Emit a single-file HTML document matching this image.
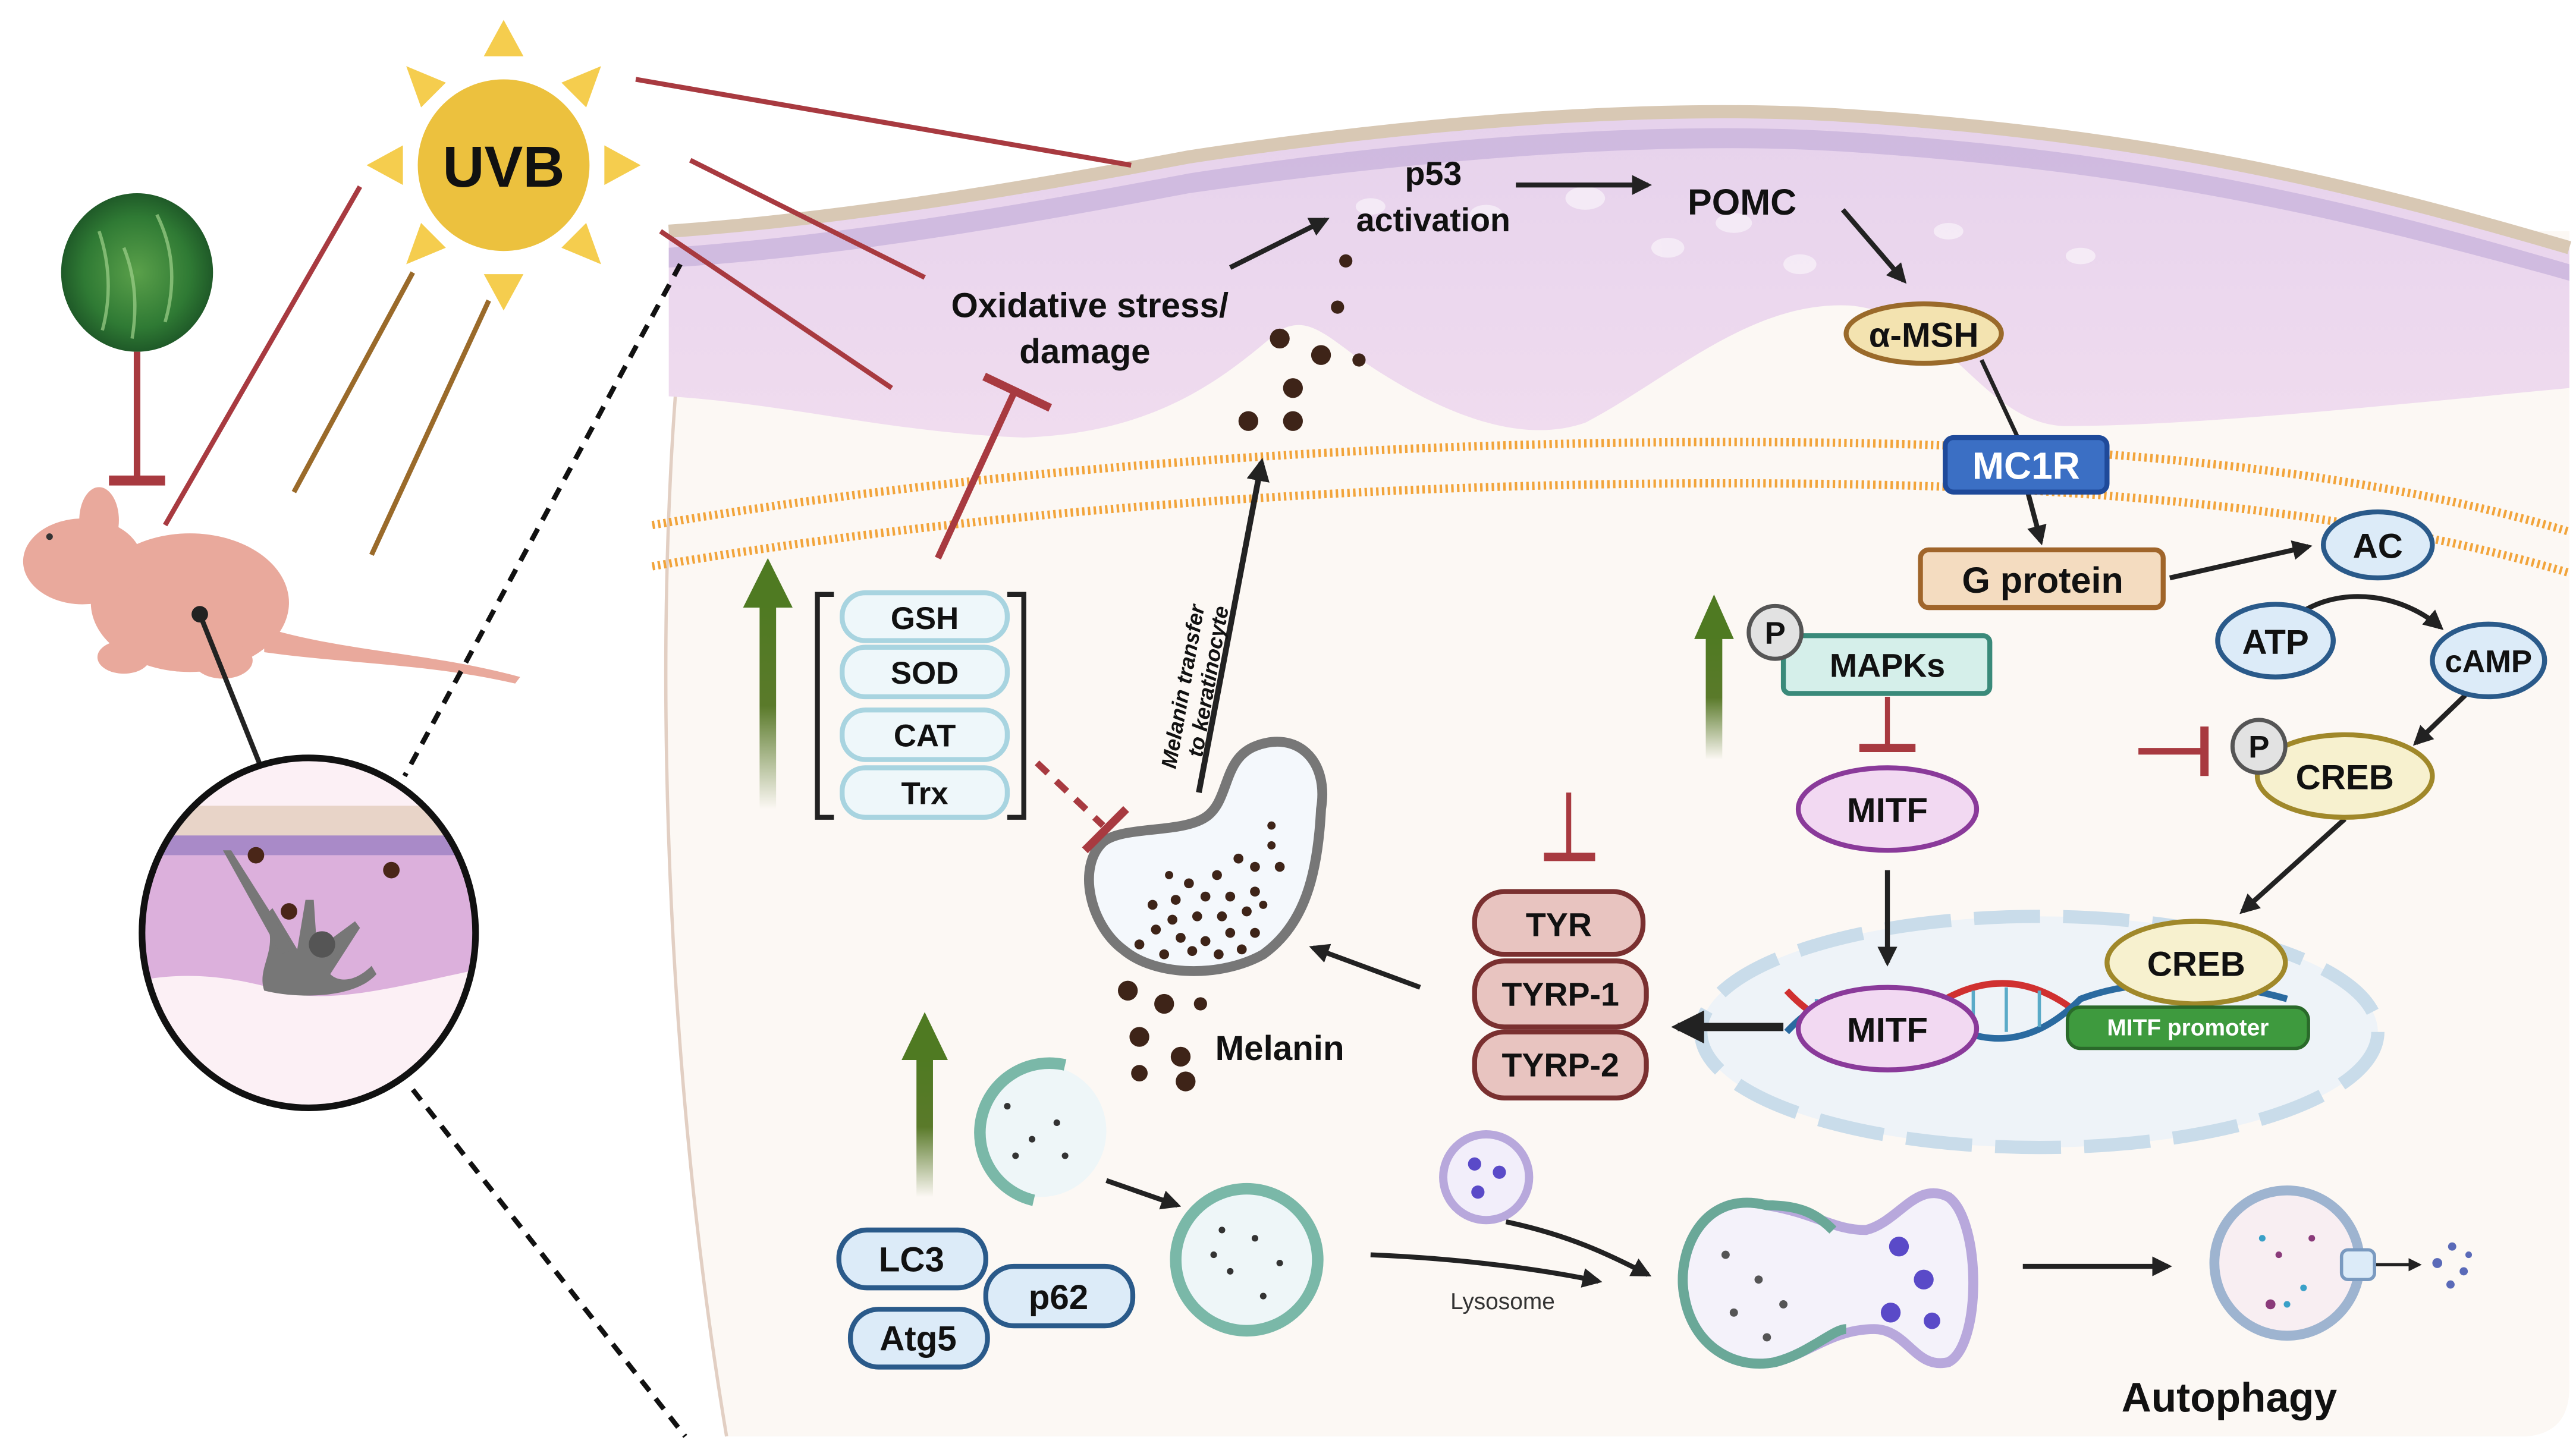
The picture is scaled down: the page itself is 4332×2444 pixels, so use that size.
<!DOCTYPE html>
<html><head><meta charset="utf-8"><style>
html,body{margin:0;padding:0;background:#fff;}
svg{display:block;}
text{font-family:"Liberation Sans Narrow","Liberation Sans",sans-serif;font-weight:bold;fill:#111;}
</style></head><body>
<svg width="4332" height="2444" viewBox="0 0 1560 880" xmlns="http://www.w3.org/2000/svg">
<defs>
<linearGradient id="gup" x1="0" y1="1" x2="0" y2="0"><stop offset="0" stop-color="#5a7a2a" stop-opacity="0"/><stop offset="0.5" stop-color="#5a7a2a"/><stop offset="1" stop-color="#4f7a22"/></linearGradient>
<radialGradient id="leaf" cx="0.5" cy="0.5" r="0.5"><stop offset="0" stop-color="#5aa04a"/><stop offset="0.7" stop-color="#2f7a34"/><stop offset="1" stop-color="#1f5a28"/></radialGradient>
<linearGradient id="skin" x1="0" y1="0" x2="0" y2="1"><stop offset="0" stop-color="#e6d2ec"/><stop offset="1" stop-color="#f0dcef"/></linearGradient>
<marker id="ah" viewBox="0 0 10 10" refX="8" refY="5" markerWidth="4" markerHeight="4" orient="auto"><path d="M0,0 L10,5 L0,10 z" fill="#222"/></marker>
</defs>

<path d="M420,140 C395,300 395,600 440,870 L1530,870 Q1556,868 1556,840 L1556,140 Z" fill="#fcf8f4"/>
<path d="M420,140 C395,300 395,600 440,870" fill="none" stroke="#e2cfc3" stroke-width="2"/>

<path d="M405,140 C520,132 640,110 720,95 C850,75 1000,62 1120,70 C1300,82 1420,110 1556,150 L1556,235 C1450,245 1330,258 1250,258 C1200,256 1180,190 1120,185 C1060,182 1010,230 960,256 C920,270 870,250 820,215 C800,200 790,192 775,200 C740,230 700,262 620,265 C540,262 480,245 405,240 Z" fill="url(#skin)"/>
<path d="M405,150 C520,142 640,120 720,105 C850,85 1000,72 1120,80 C1300,92 1420,120 1556,160 L1556,170 C1420,132 1300,104 1120,92 C1000,84 850,98 720,117 C640,132 520,155 405,162 Z" fill="#c9b4dc" opacity="0.8"/>
<path d="M405,140 C520,132 640,110 720,95 C850,75 1000,62 1120,70 C1300,82 1420,110 1556,150" fill="none" stroke="#d8c8b4" stroke-width="8"/>
<g fill="#ffffff" opacity="0.5">
<ellipse cx="900" cy="130" rx="10" ry="6"/><ellipse cx="960" cy="120" rx="12" ry="7"/><ellipse cx="1010" cy="150" rx="10" ry="6"/><ellipse cx="1050" cy="135" rx="11" ry="6"/><ellipse cx="1090" cy="160" rx="10" ry="6"/><ellipse cx="1180" cy="140" rx="9" ry="5"/><ellipse cx="1260" cy="155" rx="9" ry="5"/><ellipse cx="830" cy="125" rx="9" ry="5"/>
</g>

<g fill="none" stroke="#f2a43a" stroke-width="5" stroke-dasharray="1.5 2">
<path d="M395,318 C600,283 850,265 1100,268 C1300,270 1450,290 1556,322"/>
<path d="M395,343 C600,308 850,290 1100,293 C1300,295 1450,315 1556,347"/>
</g>

<g fill="#f5cd4e">
<polygon points="305,12 293,34 317,34"/><polygon points="305,188 293,166 317,166"/>
<polygon points="222,100 244,88 244,112"/><polygon points="388,100 366,88 366,112"/>
<polygon points="246,40 270,50 255,65"/><polygon points="364,40 340,50 355,65"/>
<polygon points="246,160 270,150 255,135"/><polygon points="364,160 340,150 355,135"/>
</g>
<circle cx="305" cy="100" r="52" fill="#ecc13e"/>
<text x="305" y="113" font-size="35" text-anchor="middle">UVB</text>

<g stroke="#a83a40" stroke-width="3">
<line x1="385" y1="48" x2="685" y2="100"/>
<line x1="418" y1="97" x2="560" y2="168"/>
<line x1="400" y1="140" x2="540" y2="235"/>
<line x1="218" y1="113" x2="100" y2="318"/>
</g>
<g stroke="#9a6a2a" stroke-width="3">
<line x1="250" y1="165" x2="178" y2="298"/>
<line x1="296" y1="182" x2="225" y2="336"/>
</g>

<ellipse cx="83" cy="165" rx="46" ry="48" fill="url(#leaf)"/>
<g stroke="#9ed08a" stroke-width="2" fill="none" opacity="0.7"><path d="M60,140 Q70,170 62,200"/><path d="M95,130 Q110,160 100,195"/><path d="M75,150 Q85,175 80,205"/></g>
<line x1="83" y1="213" x2="83" y2="290" stroke="#a83a40" stroke-width="4"/>
<line x1="66" y1="291" x2="100" y2="291" stroke="#a83a40" stroke-width="6"/>

<g fill="#e9a99c">
<ellipse cx="115" cy="365" rx="60" ry="42"/>
<ellipse cx="50" cy="340" rx="36" ry="26"/>
<ellipse cx="60" cy="315" rx="12" ry="20"/>
<path d="M160,380 C210,395 260,395 315,410 L312,414 C260,402 210,402 160,395 Z"/>
<ellipse cx="75" cy="398" rx="16" ry="10"/><ellipse cx="135" cy="400" rx="18" ry="11"/>
</g>
<circle cx="30" cy="325" r="2" fill="#333"/>
<circle cx="121" cy="372" r="5" fill="#222"/>
<line x1="121" y1="372" x2="157" y2="462" stroke="#222" stroke-width="3"/>

<clipPath id="cc"><ellipse cx="187" cy="565" rx="101" ry="106"/></clipPath>
<g clip-path="url(#cc)">
<rect x="80" y="455" width="220" height="220" fill="#fcf0f5"/>
<rect x="80" y="488" width="220" height="20" fill="#e8d4c8"/>
<rect x="80" y="506" width="220" height="12" fill="#a98ac8"/>
<path d="M80,518 L300,518 L300,585 C250,595 200,610 170,600 C130,588 100,590 80,595 Z" fill="#dcb0dc"/>
<path d="M160,600 C155,585 170,575 160,555 L165,550 L180,575 L185,545 L190,545 L192,575 L215,558 L218,562 L200,590 C205,595 215,595 225,585 L228,590 C215,605 180,605 160,600 Z" fill="#777"/>
<path d="M170,578 L135,515 L140,515 L178,575 Z" fill="#777"/>
<circle cx="195" cy="572" r="8" fill="#555"/>
<circle cx="155" cy="518" r="5" fill="#4a2618"/><circle cx="237" cy="527" r="5" fill="#4a2618"/><circle cx="175" cy="552" r="5" fill="#4a2618"/>
</g>
<ellipse cx="187" cy="565" rx="101" ry="106" fill="none" stroke="#111" stroke-width="4"/>

<g stroke="#111" stroke-width="3" stroke-dasharray="8 6">
<line x1="412" y1="160" x2="245" y2="470"/>
<line x1="250" y1="660" x2="415" y2="870"/>
</g>

<text x="660" y="192" font-size="21" text-anchor="middle">Oxidative stress/</text>
<text x="657" y="220" font-size="21" text-anchor="middle">damage</text>
<text x="868" y="112" font-size="20" text-anchor="middle">p53</text>
<text x="868" y="140" font-size="20" text-anchor="middle">activation</text>
<text x="1055" y="130" font-size="22" text-anchor="middle">POMC</text>
<g stroke="#222" stroke-width="3" marker-end="url(#ah)" fill="none">
<line x1="745" y1="162" x2="803" y2="133"/>
<line x1="918" y1="112" x2="998" y2="112"/>
<line x1="1116" y1="127" x2="1153" y2="170"/>
<line x1="1228" y1="298" x2="1236" y2="328"/>
<line x1="1314" y1="350" x2="1398" y2="331"/>
<path d="M1395,370 C1420,355 1455,360 1478,380"/>
<line x1="1493" y1="421" x2="1463" y2="450"/>
<line x1="1420" y1="496" x2="1358" y2="552"/>
<line x1="860" y1="598" x2="795" y2="574"/>
<line x1="670" y1="715" x2="713" y2="730"/>
<path d="M830,760 C880,762 930,768 968,776"/>
<path d="M912,740 C950,748 975,760 998,772"/>
<line x1="1225" y1="767" x2="1313" y2="767"/>
<line x1="1420" y1="766" x2="1465" y2="766" stroke-width="2"/>
</g>
<line x1="1200" y1="218" x2="1222" y2="265" stroke="#222" stroke-width="2.5"/>
<line x1="726" y1="480" x2="764" y2="280" stroke="#222" stroke-width="3.5" marker-end="url(#ah)"/>

<g fill="#3e2418">
<circle cx="815" cy="158" r="4"/><circle cx="810" cy="186" r="4"/><circle cx="775" cy="205" r="6"/><circle cx="800" cy="215" r="6"/><circle cx="823" cy="218" r="4"/><circle cx="783" cy="235" r="6"/><circle cx="756" cy="255" r="6"/><circle cx="783" cy="255" r="6"/>
</g>

<ellipse cx="1165" cy="202" rx="47" ry="18" fill="#f3e3b0" stroke="#9a6a2a" stroke-width="3"/>
<text x="1165" y="210" font-size="21" text-anchor="middle">α-MSH</text>
<rect x="1178" y="265" width="98" height="33" rx="5" fill="#3b6fc4" stroke="#1f4a9a" stroke-width="3"/>
<text x="1227" y="290" font-size="23" text-anchor="middle" style="fill:#fff">MC1R</text>
<rect x="1163" y="333" width="147" height="35" rx="5" fill="#f4dcc0" stroke="#a0652a" stroke-width="3"/>
<text x="1237" y="359" font-size="22" text-anchor="middle">G protein</text>
<g fill="#dcebf8" stroke="#2a5a8a" stroke-width="3">
<ellipse cx="1440" cy="330" rx="33" ry="20"/><ellipse cx="1378" cy="388" rx="35" ry="22"/><ellipse cx="1507" cy="400" rx="34" ry="22"/>
</g>
<text x="1440" y="338" font-size="21" text-anchor="middle">AC</text>
<text x="1378" y="396" font-size="21" text-anchor="middle">ATP</text>
<text x="1507" y="407" font-size="19" text-anchor="middle">cAMP</text>

<ellipse cx="1420" cy="470" rx="53" ry="25" fill="#f7f1cf" stroke="#a0882a" stroke-width="3"/>
<text x="1420" y="478" font-size="21" text-anchor="middle">CREB</text>
<circle cx="1368" cy="452" r="16" fill="#e2e2e2" stroke="#555" stroke-width="2.5"/>
<text x="1368" y="459" font-size="19" text-anchor="middle">P</text>
<line x1="1295" y1="455" x2="1333" y2="455" stroke="#a83a40" stroke-width="4"/>
<line x1="1335" y1="440" x2="1335" y2="470" stroke="#a83a40" stroke-width="5"/>

<rect x="1033" y="385" width="10" height="75" fill="url(#gup)"/>
<polygon points="1038,360 1026,387 1050,387" fill="#4f7a22"/>
<rect x="1080" y="385" width="125" height="35" rx="4" fill="#d5efea" stroke="#3a8a7a" stroke-width="3"/>
<text x="1143" y="410" font-size="20" text-anchor="middle">MAPKs</text>
<circle cx="1075" cy="383" r="16" fill="#e2e2e2" stroke="#555" stroke-width="2.5"/>
<text x="1075" y="390" font-size="19" text-anchor="middle">P</text>
<line x1="1143" y1="422" x2="1143" y2="452" stroke="#a83a40" stroke-width="3"/>
<line x1="1126" y1="453" x2="1160" y2="453" stroke="#a83a40" stroke-width="5"/>
<ellipse cx="1143" cy="490" rx="54" ry="25" fill="#f2d9f2" stroke="#8a3a9a" stroke-width="3"/>
<text x="1143" y="498" font-size="21" text-anchor="middle">MITF</text>

<ellipse cx="1235" cy="625" rx="205" ry="70" fill="#eef3f8" stroke="#c9dcea" stroke-width="8" stroke-dasharray="40 14"/>
<line x1="1143" y1="527" x2="1143" y2="583" stroke="#222" stroke-width="3" marker-end="url(#ah)"/>
<line x1="1080" y1="622" x2="1016" y2="622" stroke="#222" stroke-width="5" marker-end="url(#ah)"/>
<path d="M1082,600 C1110,630 1140,630 1170,610 C1200,590 1230,590 1260,615" fill="none" stroke="#d03030" stroke-width="4"/>
<path d="M1082,625 C1110,595 1140,595 1170,615 C1200,635 1230,635 1260,605 C1300,590 1350,595 1385,605" fill="none" stroke="#2a6aa0" stroke-width="4"/>
<g stroke="#5aaac8" stroke-width="2"><line x1="1100" y1="605" x2="1100" y2="620"/><line x1="1195" y1="600" x2="1195" y2="625"/><line x1="1215" y1="598" x2="1215" y2="625"/><line x1="1235" y1="600" x2="1235" y2="622"/></g>
<ellipse cx="1143" cy="623" rx="54" ry="25" fill="#f2d9f2" stroke="#8a3a9a" stroke-width="3"/>
<text x="1143" y="631" font-size="21" text-anchor="middle">MITF</text>
<ellipse cx="1330" cy="583" rx="54" ry="25" fill="#f7f1cf" stroke="#a0882a" stroke-width="3"/>
<text x="1330" y="591" font-size="21" text-anchor="middle">CREB</text>
<rect x="1252" y="610" width="146" height="25" rx="8" fill="#3e9a3e" stroke="#2a6a2a" stroke-width="2"/>
<text x="1325" y="627" font-size="14" text-anchor="middle" style="fill:#fff">MITF promoter</text>

<g fill="#e8c4c0" stroke="#7a3030" stroke-width="3">
<rect x="893" y="540" width="102" height="38" rx="18"/>
<rect x="893" y="582" width="104" height="40" rx="18"/>
<rect x="893" y="625" width="104" height="40" rx="18"/>
</g>
<text x="944" y="567" font-size="20" text-anchor="middle">TYR</text>
<text x="945" y="609" font-size="20" text-anchor="middle">TYRP-1</text>
<text x="945" y="652" font-size="20" text-anchor="middle">TYRP-2</text>
<line x1="950" y1="480" x2="950" y2="518" stroke="#a83a40" stroke-width="3"/>
<line x1="935" y1="519" x2="966" y2="519" stroke="#a83a40" stroke-width="5"/>

<path d="M668,510 C680,500 715,505 730,495 C745,485 740,460 760,452 C785,442 805,460 800,490 C798,530 790,560 765,578 C740,592 700,592 680,575 C660,560 652,525 668,510 Z" fill="#f4f8fc" stroke="#777" stroke-width="6"/>
<g fill="#3e2418">
<circle cx="770" cy="500" r="2.5"/><circle cx="770" cy="512" r="2.5"/><circle cx="750" cy="520" r="3"/><circle cx="760" cy="525" r="3"/><circle cx="775" cy="525" r="3"/><circle cx="737" cy="530" r="3"/><circle cx="720" cy="535" r="3"/><circle cx="712" cy="545" r="3"/><circle cx="730" cy="543" r="3"/><circle cx="745" cy="543" r="3"/><circle cx="760" cy="540" r="3"/><circle cx="698" cy="548" r="3"/><circle cx="710" cy="557" r="3"/><circle cx="725" cy="555" r="3"/><circle cx="740" cy="555" r="3"/><circle cx="755" cy="552" r="3"/><circle cx="765" cy="548" r="2.5"/><circle cx="700" cy="563" r="3"/><circle cx="715" cy="568" r="3"/><circle cx="730" cy="570" r="3"/><circle cx="745" cy="565" r="3"/><circle cx="760" cy="565" r="3"/><circle cx="690" cy="572" r="3"/><circle cx="705" cy="578" r="3"/><circle cx="722" cy="576" r="3"/><circle cx="738" cy="578" r="3"/><circle cx="752" cy="575" r="3"/><circle cx="708" cy="530" r="2.5"/>
</g>
<text transform="translate(712,466) rotate(-80)" font-size="13" font-style="italic" style="font-family:'Liberation Sans',sans-serif">Melanin transfer</text>
<text transform="translate(728,459) rotate(-80)" font-size="13" font-style="italic" style="font-family:'Liberation Sans',sans-serif">to keratinocyte</text>

<g fill="#3e2418">
<circle cx="683" cy="600" r="6"/><circle cx="705" cy="608" r="6"/><circle cx="727" cy="608" r="4"/><circle cx="690" cy="628" r="6"/><circle cx="715" cy="640" r="6"/><circle cx="690" cy="650" r="5"/><circle cx="718" cy="655" r="6"/>
</g>
<text x="775" y="642" font-size="21" text-anchor="middle">Melanin</text>

<rect x="460" y="365" width="10" height="125" fill="url(#gup)"/>
<polygon points="465,338 450,368 480,368" fill="#4f7a22"/>
<path d="M505,360 L495,360 L495,495 L505,495 M610,360 L620,360 L620,495 L610,495" fill="none" stroke="#222" stroke-width="3"/>
<g fill="#eef7fa" stroke="#a8d4e0" stroke-width="3">
<rect x="510" y="359" width="100" height="29" rx="14"/>
<rect x="510" y="392" width="100" height="30" rx="14"/>
<rect x="510" y="430" width="100" height="30" rx="14"/>
<rect x="510" y="465" width="100" height="30" rx="14"/>
</g>
<text x="560" y="381" font-size="19" text-anchor="middle">GSH</text>
<text x="560" y="414" font-size="19" text-anchor="middle">SOD</text>
<text x="560" y="452" font-size="19" text-anchor="middle">CAT</text>
<text x="560" y="487" font-size="19" text-anchor="middle">Trx</text>
<line x1="568" y1="338" x2="614" y2="238" stroke="#a83a40" stroke-width="4"/>
<line x1="596" y1="228" x2="636" y2="247" stroke="#a83a40" stroke-width="5"/>
<line x1="628" y1="462" x2="668" y2="500" stroke="#a83a40" stroke-width="4" stroke-dasharray="9 7"/>
<line x1="657" y1="515" x2="682" y2="490" stroke="#a83a40" stroke-width="5"/>

<rect x="555" y="640" width="10" height="85" fill="url(#gup)"/>
<polygon points="560,613 546,642 574,642" fill="#4f7a22"/>
<g fill="#dcebf8" stroke="#2a5a8a" stroke-width="3">
<rect x="508" y="745" width="89" height="35" rx="17"/>
<rect x="597" y="767" width="89" height="36" rx="17"/>
<rect x="515" y="793" width="83" height="35" rx="17"/>
</g>
<text x="552" y="770" font-size="21" text-anchor="middle">LC3</text>
<text x="641" y="793" font-size="21" text-anchor="middle">p62</text>
<text x="556" y="818" font-size="21" text-anchor="middle">Atg5</text>

<circle cx="630" cy="685" r="40" fill="#eef6f8"/>
<path d="M645,645 A42,42 0 1,0 626,727" fill="none" stroke="#7ab8a8" stroke-width="7"/>
<g fill="#333"><circle cx="610" cy="670" r="2"/><circle cx="625" cy="690" r="2"/><circle cx="640" cy="680" r="2"/><circle cx="615" cy="700" r="2"/><circle cx="645" cy="700" r="2"/></g>
<circle cx="755" cy="763" r="43" fill="#eef6f8" stroke="#7ab8a8" stroke-width="7"/>
<g fill="#333"><circle cx="740" cy="745" r="2"/><circle cx="760" cy="750" r="2"/><circle cx="775" cy="765" r="2"/><circle cx="745" cy="770" r="2"/><circle cx="765" cy="785" r="2"/><circle cx="735" cy="760" r="2"/></g>
<circle cx="900" cy="713" r="26" fill="#f2eefa" stroke="#b8a8dc" stroke-width="5"/>
<g fill="#5a4ac8"><circle cx="893" cy="705" r="4"/><circle cx="908" cy="710" r="4"/><circle cx="895" cy="722" r="4"/></g>
<text x="910" y="793" font-size="14" text-anchor="middle" style="font-weight:normal;fill:#333">Lysosome</text>

<path d="M1070,730 C1030,720 1015,760 1020,785 C1025,815 1050,830 1075,825 C1095,820 1110,805 1135,805 C1155,805 1160,830 1180,825 C1200,815 1200,740 1180,725 C1160,715 1150,740 1130,745 C1110,745 1100,735 1070,730 Z" fill="#f4f2fa" stroke="#b8a8dc" stroke-width="6"/>
<path d="M1110,745 C1100,735 1090,730 1070,730 C1030,720 1015,760 1020,785 C1025,815 1050,830 1075,825 C1095,820 1110,805 1118,805" fill="none" stroke="#6aa898" stroke-width="6"/>
<g fill="#555"><circle cx="1045" cy="760" r="2.5"/><circle cx="1065" cy="775" r="2.5"/><circle cx="1050" cy="795" r="2.5"/><circle cx="1080" cy="790" r="2.5"/><circle cx="1070" cy="810" r="2.5"/></g>
<g fill="#5a4ac8"><circle cx="1150" cy="755" r="6"/><circle cx="1165" cy="775" r="6"/><circle cx="1145" cy="795" r="6"/><circle cx="1170" cy="800" r="5"/></g>

<circle cx="1385" cy="765" r="44" fill="#f8eef2" stroke="#9eb4d0" stroke-width="6"/>
<g fill="#3aa0c8"><circle cx="1370" cy="750" r="2"/><circle cx="1395" cy="780" r="2"/><circle cx="1385" cy="790" r="2"/></g>
<g fill="#8a3a7a"><circle cx="1380" cy="760" r="2"/><circle cx="1400" cy="750" r="2"/><circle cx="1375" cy="790" r="3"/></g>
<rect x="1418" y="757" width="20" height="18" rx="4" fill="#dcebf8" stroke="#7a9ac0" stroke-width="2"/>
<g fill="#5a6ab8"><circle cx="1476" cy="765" r="3"/><circle cx="1485" cy="755" r="2.5"/><circle cx="1492" cy="770" r="2.5"/><circle cx="1484" cy="778" r="2.5"/><circle cx="1495" cy="760" r="2"/></g>
<text x="1350" y="855" font-size="25" text-anchor="middle">Autophagy</text>
</svg>
</body></html>
